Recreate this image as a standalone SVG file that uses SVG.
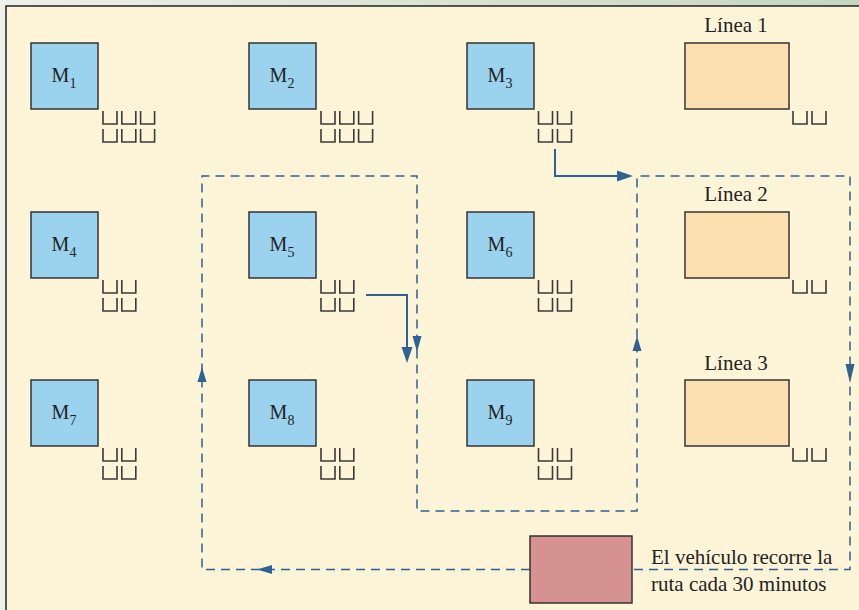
<svg xmlns="http://www.w3.org/2000/svg" xmlns:xlink="http://www.w3.org/1999/xlink" width="859" height="610" viewBox="0 0 859 610">
<defs>
<linearGradient id="bg" x1="0" y1="0" x2="1" y2="0">
<stop offset="0" stop-color="#eef0ea"/>
<stop offset="1" stop-color="#c6d6be"/>
</linearGradient>
<path id="cell" d="M0,0 V13 H14 V0"/>
<style>
.frame{fill:#fef5d9;stroke:#222;stroke-width:1.5}
.mach{fill:#9bd2ee;stroke:#333;stroke-width:1.5}
.line{fill:#fde0b2;stroke:#333;stroke-width:1.5}
.veh{fill:#d69290;stroke:#333;stroke-width:1.5}
.q{fill:none;stroke:#3a3a3a;stroke-width:1.6}
.t{font-family:"Liberation Serif","Times New Roman",serif;fill:#222}
.m{font-size:20px}
.s{font-size:14px}
.lbl{font-size:21px}
.note{font-size:21px}
.route{fill:none;stroke:#2e6292;stroke-width:1.5;stroke-dasharray:9,6}
.sol{fill:none;stroke:#2e6292;stroke-width:2}
.ah{fill:#2e6292}
</style>
</defs>
<rect x="0" y="0" width="859" height="610" fill="url(#bg)"/>
<rect class="frame" x="6" y="6" width="870" height="620"/>

<g id="connectors">
<path class="route" d="M530,569.5 H202 V176 H417 V511 H637 V176 H850 V569.5 H632"/>
<polygon class="ah" points="202,367 197.5,382 206.5,382"/>
<polygon class="ah" points="257,569.5 272,565 272,574"/>
<polygon class="ah" points="417,352 412.5,336 421.5,336"/>
<polygon class="ah" points="637,336 632.5,351 641.5,351"/>
<polygon class="ah" points="850,383 845.5,364 854.5,364"/>
<path class="sol" d="M555,149 V176 H618"/>
<polygon class="ah" points="633,176 617,170.5 617,181.5"/>
<path class="sol" d="M366,295 H407 V348"/>
<polygon class="ah" points="407,363 401.5,347 412.5,347"/>
</g>

<g id="M1">
<rect class="mach" x="31" y="43" width="67" height="66"/>
<text class="t m" x="64" y="82" text-anchor="middle">M<tspan class="s" dy="6">1</tspan></text>
<g class="q"><use href="#cell" x="103" y="111"/><use href="#cell" x="121.8" y="111"/><use href="#cell" x="140.6" y="111"/><use href="#cell" x="103" y="129"/><use href="#cell" x="121.8" y="129"/><use href="#cell" x="140.6" y="129"/></g>
</g>
<g id="M2">
<rect class="mach" x="249" y="43" width="67" height="66"/>
<text class="t m" x="282" y="82" text-anchor="middle">M<tspan class="s" dy="6">2</tspan></text>
<g class="q"><use href="#cell" x="321" y="111"/><use href="#cell" x="339.8" y="111"/><use href="#cell" x="358.6" y="111"/><use href="#cell" x="321" y="129"/><use href="#cell" x="339.8" y="129"/><use href="#cell" x="358.6" y="129"/></g>
</g>
<g id="M3">
<rect class="mach" x="467" y="43" width="67" height="66"/>
<text class="t m" x="500" y="82" text-anchor="middle">M<tspan class="s" dy="6">3</tspan></text>
<g class="q"><use href="#cell" x="538.5" y="111"/><use href="#cell" x="557.5" y="111"/><use href="#cell" x="538.5" y="129"/><use href="#cell" x="557.5" y="129"/></g>
</g>
<g id="M4">
<rect class="mach" x="31" y="212" width="67" height="66"/>
<text class="t m" x="64" y="251" text-anchor="middle">M<tspan class="s" dy="6">4</tspan></text>
<g class="q"><use href="#cell" x="103" y="280"/><use href="#cell" x="121.8" y="280"/><use href="#cell" x="103" y="298"/><use href="#cell" x="121.8" y="298"/></g>
</g>
<g id="M5">
<rect class="mach" x="249" y="212" width="67" height="66"/>
<text class="t m" x="282" y="251" text-anchor="middle">M<tspan class="s" dy="6">5</tspan></text>
<g class="q"><use href="#cell" x="321" y="280"/><use href="#cell" x="339.8" y="280"/><use href="#cell" x="321" y="298"/><use href="#cell" x="339.8" y="298"/></g>
</g>
<g id="M6">
<rect class="mach" x="467" y="212" width="67" height="66"/>
<text class="t m" x="500" y="251" text-anchor="middle">M<tspan class="s" dy="6">6</tspan></text>
<g class="q"><use href="#cell" x="538.5" y="280"/><use href="#cell" x="557.5" y="280"/><use href="#cell" x="538.5" y="298"/><use href="#cell" x="557.5" y="298"/></g>
</g>
<g id="M7">
<rect class="mach" x="31" y="380" width="67" height="66"/>
<text class="t m" x="64" y="419" text-anchor="middle">M<tspan class="s" dy="6">7</tspan></text>
<g class="q"><use href="#cell" x="103" y="448"/><use href="#cell" x="121.8" y="448"/><use href="#cell" x="103" y="466"/><use href="#cell" x="121.8" y="466"/></g>
</g>
<g id="M8">
<rect class="mach" x="249" y="380" width="67" height="66"/>
<text class="t m" x="282" y="419" text-anchor="middle">M<tspan class="s" dy="6">8</tspan></text>
<g class="q"><use href="#cell" x="321" y="448"/><use href="#cell" x="339.8" y="448"/><use href="#cell" x="321" y="466"/><use href="#cell" x="339.8" y="466"/></g>
</g>
<g id="M9">
<rect class="mach" x="467" y="380" width="67" height="66"/>
<text class="t m" x="500" y="419" text-anchor="middle">M<tspan class="s" dy="6">9</tspan></text>
<g class="q"><use href="#cell" x="538.5" y="448"/><use href="#cell" x="557.5" y="448"/><use href="#cell" x="538.5" y="466"/><use href="#cell" x="557.5" y="466"/></g>
</g>

<g id="linea1">
<text class="t lbl" x="736" y="32" text-anchor="middle">Línea 1</text>
<rect class="line" x="685" y="43" width="104" height="66"/>
<g class="q"><use href="#cell" x="793" y="111"/><use href="#cell" x="812" y="111"/></g>
</g>
<g id="linea2">
<text class="t lbl" x="736" y="201" text-anchor="middle">Línea 2</text>
<rect class="line" x="685" y="212" width="104" height="66"/>
<g class="q"><use href="#cell" x="793" y="280"/><use href="#cell" x="812" y="280"/></g>
</g>
<g id="linea3">
<text class="t lbl" x="736" y="370" text-anchor="middle">Línea 3</text>
<rect class="line" x="685" y="380" width="104" height="66"/>
<g class="q"><use href="#cell" x="793" y="448"/><use href="#cell" x="812" y="448"/></g>
</g>

<g id="vehiculo">
<rect class="veh" x="530" y="536" width="102" height="67"/>
<text class="t note" x="651" y="564">El vehículo recorre la</text>
<text class="t note" x="651" y="591">ruta cada 30 minutos</text>
</g>
</svg>
